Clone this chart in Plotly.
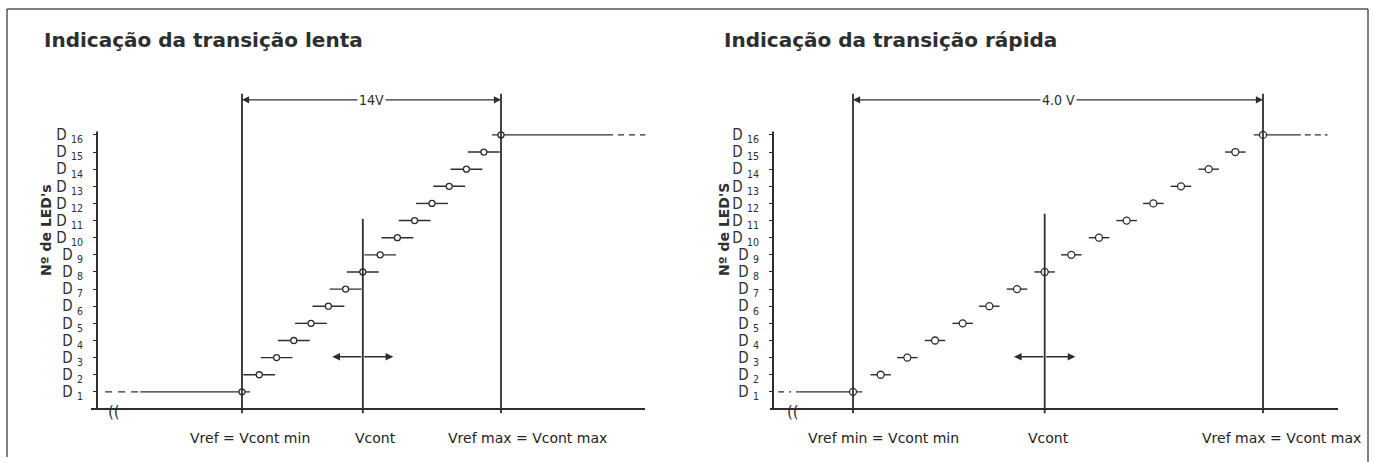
import plotly.graph_objects as go

W, H = 1373, 462
INK = "#2e2e2e"
LABEL_FONT = "DejaVu Sans, sans-serif"
TICK_FONT = "DejaVu Sans Condensed, DejaVu Sans, sans-serif"

# ---- data -------------------------------------------------------------
LED_LEVELS = [1, 2, 3, 4, 5, 6, 7, 8, 9, 10, 11, 12, 13, 14, 15, 16]
LED_TICKS = ["D <sub>%d</sub>" % n for n in LED_LEVELS]

SLOW_TITLE = "Indicação da transição lenta"
FAST_TITLE = "Indicação da transição rápida"

# switching voltage of each LED above Vref min (V)
SLOW_VOLTS = [0.00, 0.93, 1.87, 2.80, 3.73, 4.67, 5.60, 6.53,
              7.47, 8.40, 9.33, 10.27, 11.20, 12.13, 13.07, 14.00]
FAST_VOLTS = [0.00, 0.27, 0.53, 0.80, 1.07, 1.33, 1.60, 1.87,
              2.13, 2.40, 2.67, 2.93, 3.20, 3.47, 3.73, 4.00]

# extent of each LED's transition band, left / right of the switching point (V)
SLOW_BAND_LEFT = [5.50, 0.86, 0.86, 0.86, 0.86, 0.86, 0.86, 0.86,
                  0.86, 0.86, 0.86, 0.86, 0.86, 0.86, 0.86, 0.49]
SLOW_BAND_RIGHT = [0.43, 0.86, 0.86, 0.86, 0.86, 0.86, 0.86, 0.86,
                   0.86, 0.86, 0.86, 0.86, 0.86, 0.86, 0.86, 5.73]
FAST_BAND_LEFT = [0.52, 0.10, 0.10, 0.10, 0.10, 0.10, 0.10, 0.10,
                  0.10, 0.10, 0.10, 0.10, 0.10, 0.10, 0.10, 0.09]
FAST_BAND_RIGHT = [0.09, 0.10, 0.10, 0.10, 0.10, 0.10, 0.10, 0.10,
                   0.10, 0.10, 0.10, 0.10, 0.10, 0.10, 0.10, 0.31]

# dashed continuation of D1 (left) and D16 (right)
SLOW_TAIL_LEFT = [-7.40, -5.50]
SLOW_TAIL_RIGHT = [19.73, 21.80]
FAST_TAIL_LEFT = [-0.73, -0.52]
FAST_TAIL_RIGHT = [4.31, 4.63]

SLOW_VCONT = 6.53
FAST_VCONT = 1.87
SLOW_SPAN = "14V"
FAST_SPAN = "4.0 V"
SLOW_X_LABELS = ["Vref = Vcont min", "Vcont", "Vref max = Vcont max"]
FAST_X_LABELS = ["Vref min = Vcont min", "Vcont", "Vref max = Vcont max"]
Y_TITLES = ["Nº de LED's", "Nº de LED'S"]

# ---- layout helpers ---------------------------------------------------
LEVEL_PX = 17.13      # px per LED level
ZERO_Y_PX = 409       # level 0 (x axis line)
Y_DOM_PX = (420, 88)


def px_x(p):
    return p / W


def px_y(p):
    return 1 - p / H


y_range = [(ZERO_Y_PX - Y_DOM_PX[0]) / LEVEL_PX, (ZERO_Y_PX - Y_DOM_PX[1]) / LEVEL_PX]

PANELS = [
    dict(title=SLOW_TITLE, volts=SLOW_VOLTS, left=SLOW_BAND_LEFT, right=SLOW_BAND_RIGHT,
         tail_l=SLOW_TAIL_LEFT, tail_r=SLOW_TAIL_RIGHT, vcont=SLOW_VCONT, span=SLOW_SPAN,
         xlabels=SLOW_X_LABELS, ytitle=Y_TITLES[0],
         dom=(97, 660), zero=242, ppv=18.5, title_x=42, ytitle_x=46, axis_px=(91, 645),
         vcont_top=11.1, arrow_half=1.65, msize=6, break_px=114,
         label_shift=[8, 13, 26], l_dash="7px,6px", r_dash="6px,5px"),
    dict(title=FAST_TITLE, volts=FAST_VOLTS, left=FAST_BAND_LEFT, right=FAST_BAND_RIGHT,
         tail_l=FAST_TAIL_LEFT, tail_r=FAST_TAIL_RIGHT, vcont=FAST_VCONT, span=FAST_SPAN,
         xlabels=FAST_X_LABELS, ytitle=Y_TITLES[1],
         dom=(773, 1345), zero=853, ppv=102.5, title_x=722, ytitle_x=724, axis_px=(770, 1338),
         vcont_top=11.4, arrow_half=0.30, msize=7, break_px=793,
         label_shift=[30, 4, 18], l_dash="6px,5px,2px,5px", r_dash="6px,4px"),
]

VREF_TOP = 18.4
DIM_LEVEL = 18.05
LINE_BOTTOM = -0.25
YAXIS_TOP = 16.2
ARROW_LEVEL = 3.05

fig = go.Figure()
shapes = []
annotations = []

for i, p in enumerate(PANELS, start=1):
    sfx = "" if i == 1 else str(i)
    xr, yr = "x" + sfx, "y" + sfx
    d0, d1 = p["dom"]
    fig.update_layout({
        "xaxis" + sfx: dict(domain=[px_x(d0), px_x(d1)],
                            range=[(d0 - p["zero"]) / p["ppv"], (d1 - p["zero"]) / p["ppv"]],
                            visible=False, anchor=yr, fixedrange=True),
        "yaxis" + sfx: dict(domain=[px_y(Y_DOM_PX[0]), px_y(Y_DOM_PX[1])], range=y_range,
                            anchor=xr, showgrid=False, zeroline=False, showline=False,
                            tickvals=LED_LEVELS, ticktext=LED_TICKS, ticks="outside",
                            ticklen=3, tickwidth=1, tickcolor=INK, ticklabelstandoff=7,
                            tickfont=dict(family=TICK_FONT, size=15, color=INK),
                            fixedrange=True),
    })

    volts = p["volts"]
    lo, hi = volts[0], volts[-1]

    # LED switching points with their transition bands
    fig.add_trace(go.Scatter(
        x=volts, y=LED_LEVELS, xaxis=xr, yaxis=yr, mode="markers",
        marker=dict(symbol="circle", size=p["msize"], color="white",
                    line=dict(color=INK, width=1.3)),
        error_x=dict(type="data", symmetric=False, array=p["right"], arrayminus=p["left"],
                     width=0, thickness=1.4, color=INK),
        showlegend=False, hoverinfo="skip",
    ))
    for tail, level, dash in ((p["tail_l"], LED_LEVELS[0], p["l_dash"]),
                              (p["tail_r"], LED_LEVELS[-1], p["r_dash"])):
        fig.add_trace(go.Scatter(
            x=tail, y=[level, level], xaxis=xr, yaxis=yr, mode="lines",
            line=dict(color=INK, width=1.3, dash=dash),
            showlegend=False, hoverinfo="skip",
        ))

    line = dict(color=INK, width=1.8)
    # Vref min / Vref max / Vcont verticals
    for xv, top in ((lo, VREF_TOP), (hi, VREF_TOP), (p["vcont"], p["vcont_top"])):
        shapes.append(dict(type="line", xref=xr, yref=yr, x0=xv, x1=xv,
                           y0=LINE_BOTTOM, y1=top, line=line))
    # axes drawn as plain lines
    shapes.append(dict(type="line", xref="paper", yref=yr, x0=px_x(d0), x1=px_x(d0),
                       y0=0, y1=YAXIS_TOP, line=dict(color=INK, width=2)))
    shapes.append(dict(type="line", xref="paper", yref=yr, x0=px_x(p["axis_px"][0]),
                       x1=px_x(p["axis_px"][1]), y0=0, y1=0, line=dict(color=INK, width=2)))

    # dimension arrow between Vref min and Vref max
    mid = (lo + hi) / 2
    for end in (lo, hi):
        annotations.append(dict(x=end, y=DIM_LEVEL, xref=xr, yref=yr, ax=mid, ay=DIM_LEVEL,
                                axref=xr, ayref=yr, text="", showarrow=True, arrowhead=2,
                                arrowsize=1.1, arrowwidth=1.3, arrowcolor=INK))
    annotations.append(dict(x=mid, y=DIM_LEVEL, xref=xr, yref=yr, text=p["span"],
                            showarrow=False, bgcolor="white", borderpad=1,
                            font=dict(family=TICK_FONT, size=14, color=INK)))

    # Vcont double arrow
    for end in (p["vcont"] - p["arrow_half"], p["vcont"] + p["arrow_half"]):
        annotations.append(dict(x=end, y=ARROW_LEVEL, xref=xr, yref=yr, ax=p["vcont"],
                                ay=ARROW_LEVEL, axref=xr, ayref=yr, text="", showarrow=True,
                                arrowhead=2, arrowsize=1.1, arrowwidth=1.4, arrowcolor=INK))

    # labels under the x axis
    for xv, txt, shift in zip((lo, p["vcont"], hi), p["xlabels"], p["label_shift"]):
        annotations.append(dict(x=xv, y=px_y(438), xref=xr, yref="paper", text=txt,
                                xshift=shift, showarrow=False, yanchor="middle",
                                font=dict(family=LABEL_FONT, size=14, color="#222222")))

    # axis break mark
    annotations.append(dict(x=px_x(p["break_px"]), y=px_y(412), xref="paper", yref="paper",
                            text="((", showarrow=False, xanchor="center", yanchor="middle",
                            font=dict(family=LABEL_FONT, size=15, color=INK)))

    # panel title and y title
    annotations.append(dict(x=px_x(p["title_x"]), y=px_y(40), xref="paper", yref="paper",
                            text="<b>%s</b>" % p["title"], showarrow=False,
                            xanchor="left", yanchor="middle",
                            font=dict(family=LABEL_FONT, size=20, color=INK)))
    annotations.append(dict(x=px_x(p["ytitle_x"]), y=px_y(230), xref="paper", yref="paper",
                            text="<b>%s</b>" % p["ytitle"], showarrow=False, textangle=-90,
                            xanchor="center", yanchor="middle",
                            font=dict(family=LABEL_FONT, size=14, color=INK)))

# outer frame (top, left, right)
frame = dict(color="#555555", width=1.5)
shapes.append(dict(type="line", xref="paper", yref="paper", x0=px_x(7), x1=px_x(1368),
                   y0=px_y(9), y1=px_y(9), line=frame))
shapes.append(dict(type="line", xref="paper", yref="paper", x0=px_x(7), x1=px_x(7),
                   y0=px_y(9), y1=px_y(457), line=frame))
shapes.append(dict(type="line", xref="paper", yref="paper", x0=px_x(1368), x1=px_x(1368),
                   y0=px_y(9), y1=px_y(462), line=frame))

fig.update_layout(
    width=W, height=H,
    margin=dict(l=0, r=0, t=0, b=0),
    paper_bgcolor="white", plot_bgcolor="white",
    showlegend=False,
    shapes=shapes, annotations=annotations,
)

# drop the browser's default body margin so the figure sits at the page origin
fig.write_html("out.html", config={"displayModeBar": False},
               post_script="document.body.style.margin='0';")
